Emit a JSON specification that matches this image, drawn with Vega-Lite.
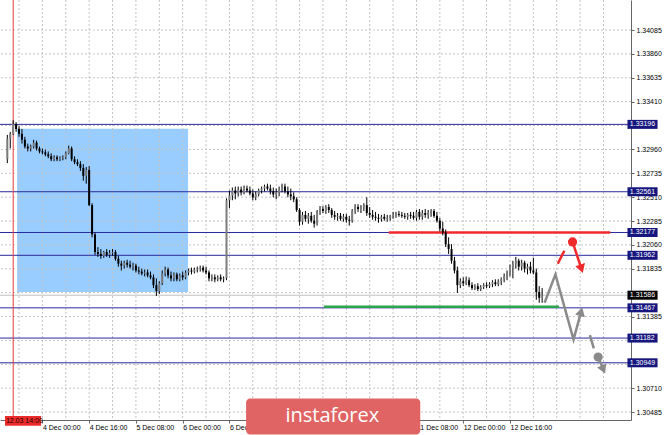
{
"$schema": "https://vega.github.io/schema/vega-lite/v6.json",
"width": 631, "height": 420,
"autosize": {"type": "none"},
"padding": {"left": 0, "top": 0, "right": 34, "bottom": 15},
"background": "white",
"config": {
 "view": {"stroke": null},
 "axis": {"grid": false, "domainColor": "#666666", "tickColor": "#666666", "labelFont": "Liberation Sans", "labelFontSize": 7, "labelColor": "#000000", "tickSize": 3, "labelOverlap": false, "labelFlush": false, "labelBound": false}
},
"datasets": {
 "candles": [
{"t":-12,"o":1.32867,"h":1.33097,"l":1.32831,"c":1.33061},
{"t":-11,"o":1.33061,"h":1.33125,"l":1.32969,"c":1.33107},
{"t":-10,"o":1.33107,"h":1.33235,"l":1.33097,"c":1.33199},
{"t":-9,"o":1.33199,"h":1.33217,"l":1.33125,"c":1.33153},
{"t":-8,"o":1.33153,"h":1.33180,"l":1.33079,"c":1.33107},
{"t":-7,"o":1.33107,"h":1.33153,"l":1.33015,"c":1.33051},
{"t":-6,"o":1.33051,"h":1.33079,"l":1.32969,"c":1.32987},
{"t":-5,"o":1.32987,"h":1.33015,"l":1.32941,"c":1.32969},
{"t":-4,"o":1.32969,"h":1.33005,"l":1.32941,"c":1.32987},
{"t":-3,"o":1.32987,"h":1.33051,"l":1.32969,"c":1.33024},
{"t":-2,"o":1.33024,"h":1.33042,"l":1.32950,"c":1.32969},
{"t":-1,"o":1.32969,"h":1.32987,"l":1.32923,"c":1.32941},
{"t":0,"o":1.32941,"h":1.32969,"l":1.32913,"c":1.32932},
{"t":1,"o":1.32932,"h":1.32959,"l":1.32895,"c":1.32913},
{"t":2,"o":1.32913,"h":1.32941,"l":1.32877,"c":1.32895},
{"t":3,"o":1.32895,"h":1.32923,"l":1.32849,"c":1.32867},
{"t":4,"o":1.32867,"h":1.32904,"l":1.32849,"c":1.32886},
{"t":5,"o":1.32886,"h":1.32904,"l":1.32849,"c":1.32867},
{"t":6,"o":1.32867,"h":1.32895,"l":1.32849,"c":1.32877},
{"t":7,"o":1.32877,"h":1.32904,"l":1.32858,"c":1.32886},
{"t":8,"o":1.32886,"h":1.32941,"l":1.32867,"c":1.32923},
{"t":9,"o":1.32923,"h":1.32996,"l":1.32913,"c":1.32969},
{"t":10,"o":1.32969,"h":1.32987,"l":1.32849,"c":1.32867},
{"t":11,"o":1.32867,"h":1.32895,"l":1.32821,"c":1.32840},
{"t":12,"o":1.32840,"h":1.32867,"l":1.32803,"c":1.32821},
{"t":13,"o":1.32821,"h":1.32849,"l":1.32757,"c":1.32785},
{"t":14,"o":1.32785,"h":1.32821,"l":1.32665,"c":1.32711},
{"t":15,"o":1.32711,"h":1.32794,"l":1.32637,"c":1.32766},
{"t":16,"o":1.32766,"h":1.32803,"l":1.32426,"c":1.32435},
{"t":17,"o":1.32435,"h":1.32453,"l":1.32131,"c":1.32159},
{"t":18,"o":1.32159,"h":1.32177,"l":1.31966,"c":1.31993},
{"t":19,"o":1.31993,"h":1.32039,"l":1.31947,"c":1.31975},
{"t":20,"o":1.31975,"h":1.32021,"l":1.31929,"c":1.31957},
{"t":21,"o":1.31957,"h":1.32003,"l":1.31938,"c":1.31993},
{"t":22,"o":1.31993,"h":1.32021,"l":1.31947,"c":1.31966},
{"t":23,"o":1.31966,"h":1.32012,"l":1.31938,"c":1.31984},
{"t":24,"o":1.31984,"h":1.32021,"l":1.31957,"c":1.31993},
{"t":25,"o":1.31993,"h":1.32012,"l":1.31911,"c":1.31929},
{"t":26,"o":1.31929,"h":1.31957,"l":1.31855,"c":1.31883},
{"t":27,"o":1.31883,"h":1.31911,"l":1.31819,"c":1.31865},
{"t":28,"o":1.31865,"h":1.31911,"l":1.31837,"c":1.31892},
{"t":29,"o":1.31892,"h":1.31920,"l":1.31846,"c":1.31874},
{"t":30,"o":1.31874,"h":1.31911,"l":1.31837,"c":1.31855},
{"t":31,"o":1.31855,"h":1.31892,"l":1.31819,"c":1.31865},
{"t":32,"o":1.31865,"h":1.31883,"l":1.31800,"c":1.31819},
{"t":33,"o":1.31819,"h":1.31855,"l":1.31782,"c":1.31809},
{"t":34,"o":1.31809,"h":1.31837,"l":1.31773,"c":1.31791},
{"t":35,"o":1.31791,"h":1.31828,"l":1.31763,"c":1.31800},
{"t":36,"o":1.31800,"h":1.31828,"l":1.31754,"c":1.31773},
{"t":37,"o":1.31773,"h":1.31809,"l":1.31736,"c":1.31754},
{"t":38,"o":1.31754,"h":1.31782,"l":1.31653,"c":1.31681},
{"t":39,"o":1.31681,"h":1.31745,"l":1.31579,"c":1.31625},
{"t":40,"o":1.31625,"h":1.31717,"l":1.31598,"c":1.31699},
{"t":41,"o":1.31699,"h":1.31819,"l":1.31681,"c":1.31791},
{"t":42,"o":1.31791,"h":1.31855,"l":1.31763,"c":1.31828},
{"t":43,"o":1.31828,"h":1.31846,"l":1.31745,"c":1.31773},
{"t":44,"o":1.31773,"h":1.31809,"l":1.31717,"c":1.31745},
{"t":45,"o":1.31745,"h":1.31800,"l":1.31717,"c":1.31782},
{"t":46,"o":1.31782,"h":1.31800,"l":1.31717,"c":1.31736},
{"t":47,"o":1.31736,"h":1.31791,"l":1.31717,"c":1.31773},
{"t":48,"o":1.31773,"h":1.31809,"l":1.31727,"c":1.31754},
{"t":49,"o":1.31754,"h":1.31819,"l":1.31736,"c":1.31800},
{"t":50,"o":1.31800,"h":1.31837,"l":1.31773,"c":1.31819},
{"t":51,"o":1.31819,"h":1.31846,"l":1.31782,"c":1.31809},
{"t":52,"o":1.31809,"h":1.31846,"l":1.31791,"c":1.31828},
{"t":53,"o":1.31828,"h":1.31855,"l":1.31800,"c":1.31837},
{"t":54,"o":1.31837,"h":1.31865,"l":1.31809,"c":1.31846},
{"t":55,"o":1.31846,"h":1.31865,"l":1.31800,"c":1.31819},
{"t":56,"o":1.31819,"h":1.31855,"l":1.31782,"c":1.31800},
{"t":57,"o":1.31800,"h":1.31819,"l":1.31717,"c":1.31745},
{"t":58,"o":1.31745,"h":1.31782,"l":1.31717,"c":1.31754},
{"t":59,"o":1.31754,"h":1.31782,"l":1.31708,"c":1.31736},
{"t":60,"o":1.31736,"h":1.31773,"l":1.31717,"c":1.31754},
{"t":61,"o":1.31754,"h":1.31782,"l":1.31717,"c":1.31736},
{"t":62,"o":1.31736,"h":1.31763,"l":1.31708,"c":1.31745},
{"t":63,"o":1.31745,"h":1.32499,"l":1.31727,"c":1.32481},
{"t":64,"o":1.32481,"h":1.32573,"l":1.32407,"c":1.32527},
{"t":65,"o":1.32527,"h":1.32601,"l":1.32481,"c":1.32573},
{"t":66,"o":1.32573,"h":1.32610,"l":1.32490,"c":1.32545},
{"t":67,"o":1.32545,"h":1.32610,"l":1.32518,"c":1.32582},
{"t":68,"o":1.32582,"h":1.32610,"l":1.32527,"c":1.32555},
{"t":69,"o":1.32555,"h":1.32619,"l":1.32536,"c":1.32591},
{"t":70,"o":1.32591,"h":1.32619,"l":1.32555,"c":1.32573},
{"t":71,"o":1.32573,"h":1.32610,"l":1.32527,"c":1.32545},
{"t":72,"o":1.32545,"h":1.32582,"l":1.32481,"c":1.32509},
{"t":73,"o":1.32509,"h":1.32564,"l":1.32481,"c":1.32536},
{"t":74,"o":1.32536,"h":1.32591,"l":1.32518,"c":1.32573},
{"t":75,"o":1.32573,"h":1.32610,"l":1.32545,"c":1.32591},
{"t":76,"o":1.32591,"h":1.32628,"l":1.32564,"c":1.32610},
{"t":77,"o":1.32610,"h":1.32637,"l":1.32573,"c":1.32591},
{"t":78,"o":1.32591,"h":1.32628,"l":1.32536,"c":1.32564},
{"t":79,"o":1.32564,"h":1.32601,"l":1.32509,"c":1.32536},
{"t":80,"o":1.32536,"h":1.32591,"l":1.32490,"c":1.32555},
{"t":81,"o":1.32555,"h":1.32610,"l":1.32518,"c":1.32582},
{"t":82,"o":1.32582,"h":1.32637,"l":1.32555,"c":1.32610},
{"t":83,"o":1.32610,"h":1.32637,"l":1.32545,"c":1.32564},
{"t":84,"o":1.32564,"h":1.32610,"l":1.32509,"c":1.32536},
{"t":85,"o":1.32536,"h":1.32591,"l":1.32481,"c":1.32518},
{"t":86,"o":1.32518,"h":1.32555,"l":1.32463,"c":1.32490},
{"t":87,"o":1.32490,"h":1.32509,"l":1.32371,"c":1.32389},
{"t":88,"o":1.32389,"h":1.32407,"l":1.32242,"c":1.32279},
{"t":89,"o":1.32279,"h":1.32371,"l":1.32251,"c":1.32343},
{"t":90,"o":1.32343,"h":1.32380,"l":1.32279,"c":1.32306},
{"t":91,"o":1.32306,"h":1.32361,"l":1.32260,"c":1.32334},
{"t":92,"o":1.32334,"h":1.32371,"l":1.32269,"c":1.32288},
{"t":93,"o":1.32288,"h":1.32343,"l":1.32223,"c":1.32260},
{"t":94,"o":1.32260,"h":1.32389,"l":1.32242,"c":1.32371},
{"t":95,"o":1.32371,"h":1.32426,"l":1.32343,"c":1.32398},
{"t":96,"o":1.32398,"h":1.32426,"l":1.32361,"c":1.32380},
{"t":97,"o":1.32380,"h":1.32435,"l":1.32352,"c":1.32417},
{"t":98,"o":1.32417,"h":1.32444,"l":1.32361,"c":1.32389},
{"t":99,"o":1.32389,"h":1.32407,"l":1.32315,"c":1.32343},
{"t":100,"o":1.32343,"h":1.32380,"l":1.32297,"c":1.32325},
{"t":101,"o":1.32325,"h":1.32361,"l":1.32288,"c":1.32334},
{"t":102,"o":1.32334,"h":1.32361,"l":1.32288,"c":1.32306},
{"t":103,"o":1.32306,"h":1.32352,"l":1.32279,"c":1.32325},
{"t":104,"o":1.32325,"h":1.32352,"l":1.32269,"c":1.32297},
{"t":105,"o":1.32297,"h":1.32334,"l":1.32242,"c":1.32288},
{"t":106,"o":1.32288,"h":1.32398,"l":1.32269,"c":1.32380},
{"t":107,"o":1.32380,"h":1.32444,"l":1.32352,"c":1.32417},
{"t":108,"o":1.32417,"h":1.32444,"l":1.32371,"c":1.32398},
{"t":109,"o":1.32398,"h":1.32435,"l":1.32361,"c":1.32417},
{"t":110,"o":1.32417,"h":1.32453,"l":1.32380,"c":1.32435},
{"t":111,"o":1.32435,"h":1.32509,"l":1.32334,"c":1.32361},
{"t":112,"o":1.32361,"h":1.32417,"l":1.32315,"c":1.32343},
{"t":113,"o":1.32343,"h":1.32389,"l":1.32297,"c":1.32325},
{"t":114,"o":1.32325,"h":1.32371,"l":1.32288,"c":1.32315},
{"t":115,"o":1.32315,"h":1.32352,"l":1.32269,"c":1.32306},
{"t":116,"o":1.32306,"h":1.32343,"l":1.32279,"c":1.32325},
{"t":117,"o":1.32325,"h":1.32352,"l":1.32288,"c":1.32306},
{"t":118,"o":1.32306,"h":1.32343,"l":1.32279,"c":1.32315},
{"t":119,"o":1.32315,"h":1.32343,"l":1.32288,"c":1.32334},
{"t":120,"o":1.32334,"h":1.32371,"l":1.32306,"c":1.32343},
{"t":121,"o":1.32343,"h":1.32371,"l":1.32315,"c":1.32352},
{"t":122,"o":1.32352,"h":1.32380,"l":1.32325,"c":1.32343},
{"t":123,"o":1.32343,"h":1.32371,"l":1.32315,"c":1.32334},
{"t":124,"o":1.32334,"h":1.32361,"l":1.32306,"c":1.32325},
{"t":125,"o":1.32325,"h":1.32361,"l":1.32297,"c":1.32343},
{"t":126,"o":1.32343,"h":1.32371,"l":1.32306,"c":1.32334},
{"t":127,"o":1.32334,"h":1.32371,"l":1.32297,"c":1.32315},
{"t":128,"o":1.32315,"h":1.32389,"l":1.32288,"c":1.32371},
{"t":129,"o":1.32371,"h":1.32398,"l":1.32297,"c":1.32325},
{"t":130,"o":1.32325,"h":1.32389,"l":1.32297,"c":1.32361},
{"t":131,"o":1.32361,"h":1.32398,"l":1.32315,"c":1.32343},
{"t":132,"o":1.32343,"h":1.32389,"l":1.32306,"c":1.32361},
{"t":133,"o":1.32361,"h":1.32398,"l":1.32325,"c":1.32380},
{"t":134,"o":1.32380,"h":1.32398,"l":1.32315,"c":1.32334},
{"t":135,"o":1.32334,"h":1.32371,"l":1.32269,"c":1.32288},
{"t":136,"o":1.32288,"h":1.32315,"l":1.32187,"c":1.32214},
{"t":137,"o":1.32214,"h":1.32279,"l":1.32150,"c":1.32177},
{"t":138,"o":1.32177,"h":1.32205,"l":1.32039,"c":1.32067},
{"t":139,"o":1.32067,"h":1.32131,"l":1.31975,"c":1.32021},
{"t":140,"o":1.32021,"h":1.32067,"l":1.31883,"c":1.31911},
{"t":141,"o":1.31911,"h":1.31947,"l":1.31791,"c":1.31819},
{"t":142,"o":1.31819,"h":1.31855,"l":1.31607,"c":1.31681},
{"t":143,"o":1.31681,"h":1.31745,"l":1.31653,"c":1.31717},
{"t":144,"o":1.31717,"h":1.31754,"l":1.31671,"c":1.31699},
{"t":145,"o":1.31699,"h":1.31763,"l":1.31681,"c":1.31727},
{"t":146,"o":1.31727,"h":1.31754,"l":1.31662,"c":1.31681},
{"t":147,"o":1.31681,"h":1.31708,"l":1.31635,"c":1.31653},
{"t":148,"o":1.31653,"h":1.31690,"l":1.31635,"c":1.31671},
{"t":149,"o":1.31671,"h":1.31699,"l":1.31625,"c":1.31644},
{"t":150,"o":1.31644,"h":1.31681,"l":1.31625,"c":1.31662},
{"t":151,"o":1.31662,"h":1.31699,"l":1.31644,"c":1.31681},
{"t":152,"o":1.31681,"h":1.31708,"l":1.31653,"c":1.31671},
{"t":153,"o":1.31671,"h":1.31708,"l":1.31653,"c":1.31690},
{"t":154,"o":1.31690,"h":1.31727,"l":1.31662,"c":1.31708},
{"t":155,"o":1.31708,"h":1.31736,"l":1.31671,"c":1.31690},
{"t":156,"o":1.31690,"h":1.31736,"l":1.31671,"c":1.31717},
{"t":157,"o":1.31717,"h":1.31754,"l":1.31681,"c":1.31736},
{"t":158,"o":1.31736,"h":1.31791,"l":1.31708,"c":1.31763},
{"t":159,"o":1.31763,"h":1.31819,"l":1.31727,"c":1.31791},
{"t":160,"o":1.31791,"h":1.31874,"l":1.31763,"c":1.31846},
{"t":161,"o":1.31846,"h":1.31911,"l":1.31745,"c":1.31883},
{"t":162,"o":1.31883,"h":1.31947,"l":1.31837,"c":1.31911},
{"t":163,"o":1.31911,"h":1.31929,"l":1.31819,"c":1.31855},
{"t":164,"o":1.31855,"h":1.31920,"l":1.31819,"c":1.31892},
{"t":165,"o":1.31892,"h":1.31911,"l":1.31800,"c":1.31837},
{"t":166,"o":1.31837,"h":1.31883,"l":1.31782,"c":1.31855},
{"t":167,"o":1.31855,"h":1.31901,"l":1.31791,"c":1.31819},
{"t":168,"o":1.31819,"h":1.31938,"l":1.31782,"c":1.31800},
{"t":169,"o":1.31800,"h":1.31837,"l":1.31543,"c":1.31616},
{"t":170,"o":1.31616,"h":1.31671,"l":1.31515,"c":1.31561},
{"t":171,"o":1.31561,"h":1.31653,"l":1.31515,"c":1.31586}
 ],
 "levels": [{"p":1.33196},{"p":1.32561},{"p":1.32177},{"p":1.31962},{"p":1.31467},{"p":1.31182},{"p":1.30949}],
 "gx": [{"t":-8},{"t":0},{"t":8},{"t":16},{"t":24},{"t":32},{"t":40},{"t":48},{"t":56},{"t":64},{"t":72},{"t":80},{"t":88},{"t":96},{"t":104},{"t":112},{"t":120},{"t":128},{"t":136},{"t":144},{"t":152},{"t":160},{"t":168},{"t":176},{"t":184},{"t":192}],
 "gy": [{"p":1.30485},{"p":1.30710},{"p":1.30935},{"p":1.31160},{"p":1.31385},{"p":1.31610},{"p":1.31835},{"p":1.32060},{"p":1.32285},{"p":1.32510},{"p":1.32735},{"p":1.32960},{"p":1.33185},{"p":1.33410},{"p":1.33635},{"p":1.33860},{"p":1.34085}],
 "grayPath": [
  {"g":"zig","k":0,"t":171.85,"p":1.31515},
  {"g":"zig","k":1,"t":175.55,"p":1.31782},
  {"g":"zig","k":2,"t":181.75,"p":1.31168},
  {"g":"zig","k":3,"t":184.35,"p":1.31431},
  {"g":"dash","k":0,"t":187.34,"p":1.31209},
  {"g":"dash","k":1,"t":188.69,"p":1.31085},
  {"g":"arrow","k":0,"t":190.17,"p":1.31003},
  {"g":"arrow","k":1,"t":191.95,"p":1.30886}
 ],
 "redPath": [
  {"g":"dash","k":0,"t":176.36,"p":1.31883},
  {"g":"dash","k":1,"t":178.59,"p":1.32005},
  {"g":"arrow","k":0,"t":181.41,"p":1.32088},
  {"g":"arrow","k":1,"t":184.46,"p":1.31835}
 ]
},
"layer": [
 {
  "data": {"values": [{"a": -8.66, "b": 49.84, "top": 1.33155, "bot": 1.31616}]},
  "mark": {"type": "rect", "color": "#99ccff"},
  "encoding": {
   "x": {"field": "a", "type": "quantitative", "title": null,
     "scale": {"domain": [-12.8, 199.7], "nice": false, "zero": false},
     "axis": {"orient": "bottom", "values": [0,16,32,48,64,128,144,160], "tickCount": 40, "labelAlign": "left", "labelDx": 1, "labelPadding": 0, "labelFlush": false, "labelOverlap": false, "labelBound": false, "labelBaseline": "top",
       "labelExpr": "datum.value==0?'4 Dec 00:00':datum.value==16?'4 Dec 16:00':datum.value==32?'5 Dec 08:00':datum.value==48?'6 Dec 00:00':datum.value==64?'6 Dec 16:00':datum.value==128?'11 Dec 08:00':datum.value==144?'12 Dec 00:00':datum.value==160?'12 Dec 16:00':''"}},
   "x2": {"field": "b"},
   "y": {"field": "top", "type": "quantitative", "title": null,
     "scale": {"domain": [1.30457, 1.34321], "nice": false, "zero": false},
     "axis": {"orient": "right", "values": [1.30485,1.30710,1.31385,1.31835,1.32060,1.32285,1.32510,1.32735,1.32960,1.33410,1.33635,1.33860,1.34085], "tickCount": 40, "format": ".5f", "labelPadding": 2, "labelBaseline": "middle", "labelOverlap": false, "labelFlush": false, "labelBound": false}},
   "y2": {"field": "bot"}
  }
 },
 {
  "data": {"name": "gx"},
  "mark": {"type": "rule", "color": "#c4c4c4", "strokeWidth": 1, "strokeDash": [2, 2]},
  "encoding": {"x": {"field": "t", "type": "quantitative", "title": null}}
 },
 {
  "data": {"name": "gy"},
  "mark": {"type": "rule", "color": "#c4c4c4", "strokeWidth": 1, "strokeDash": [2, 2]},
  "encoding": {"y": {"field": "p", "type": "quantitative", "title": null}}
 },
 {
  "data": {"values": [{"p": 1.31586}]},
  "mark": {"type": "rule", "color": "#c0c0c0", "strokeWidth": 1},
  "encoding": {"y": {"field": "p", "type": "quantitative", "title": null}}
 },
 {
  "data": {"name": "levels"},
  "mark": {"type": "rule", "color": "#2a2a9c", "strokeWidth": 1},
  "encoding": {"y": {"field": "p", "type": "quantitative", "title": null}}
 },
 {
  "data": {"values": [{"t": -10}]},
  "mark": {"type": "rule", "color": "#e23a3a", "strokeWidth": 1},
  "encoding": {"x": {"field": "t", "type": "quantitative", "title": null}}
 },
 {
  "data": {"values": [{"a": 118.54, "b": 194.31, "p": 1.32177}]},
  "mark": {"type": "rule", "color": "#f02a2a", "strokeWidth": 2.5},
  "encoding": {"x": {"field": "a", "type": "quantitative", "title": null}, "x2": {"field": "b"}, "y": {"field": "p", "type": "quantitative", "title": null}}
 },
 {
  "data": {"values": [{"a": 96.31, "b": 176.8, "p": 1.31478}]},
  "mark": {"type": "rule", "color": "#2fa24c", "strokeWidth": 2.5},
  "encoding": {"x": {"field": "a", "type": "quantitative", "title": null}, "x2": {"field": "b"}, "y": {"field": "p", "type": "quantitative", "title": null}}
 },
 {
  "data": {"name": "candles"},
  "mark": {"type": "rule", "color": "#000000", "strokeWidth": 1},
  "encoding": {"x": {"field": "t", "type": "quantitative", "title": null}, "y": {"field": "l", "type": "quantitative", "title": null}, "y2": {"field": "h"}}
 },
 {
  "data": {"name": "candles"},
  "mark": {"type": "bar", "width": 2},
  "encoding": {
   "x": {"field": "t", "type": "quantitative", "title": null},
   "y": {"field": "o", "type": "quantitative", "title": null},
   "y2": {"field": "c"},
   "color": {"condition": {"test": "datum.c > datum.o", "value": "#7c7c7c"}, "value": "#000000"}
  }
 },
 {
  "data": {"name": "grayPath"},
  "mark": {"type": "line", "color": "#8a8a8a", "strokeWidth": 2.5},
  "encoding": {"x": {"field": "t", "type": "quantitative", "title": null}, "y": {"field": "p", "type": "quantitative", "title": null}, "detail": {"field": "g"}, "order": {"field": "k"}}
 },
 {
  "data": {"name": "redPath"},
  "mark": {"type": "line", "color": "#f02a2a", "strokeWidth": 2.5},
  "encoding": {"x": {"field": "t", "type": "quantitative", "title": null}, "y": {"field": "p", "type": "quantitative", "title": null}, "detail": {"field": "g"}, "order": {"field": "k"}}
 },
 {
  "data": {"values": [{"t": 184.35, "p": 1.31431}]},
  "mark": {"type": "point", "shape": "triangle-up", "filled": true, "opacity": 1, "size": 100, "angle": 15, "color": "#8a8a8a"},
  "encoding": {"x": {"field": "t", "type": "quantitative", "title": null}, "y": {"field": "p", "type": "quantitative", "title": null}}
 },
 {
  "data": {"values": [{"t": 191.95, "p": 1.30886}]},
  "mark": {"type": "point", "shape": "triangle-down", "filled": true, "opacity": 1, "size": 100, "angle": -23, "color": "#8a8a8a"},
  "encoding": {"x": {"field": "t", "type": "quantitative", "title": null}, "y": {"field": "p", "type": "quantitative", "title": null}}
 },
 {
  "data": {"values": [{"t": 190.17, "p": 1.31003}]},
  "mark": {"type": "point", "shape": "circle", "filled": true, "opacity": 1, "size": 85, "color": "#8a8a8a"},
  "encoding": {"x": {"field": "t", "type": "quantitative", "title": null}, "y": {"field": "p", "type": "quantitative", "title": null}}
 },
 {
  "data": {"values": [{"t": 184.46, "p": 1.31835}]},
  "mark": {"type": "point", "shape": "triangle-down", "filled": true, "opacity": 1, "size": 100, "angle": -18, "color": "#f02a2a"},
  "encoding": {"x": {"field": "t", "type": "quantitative", "title": null}, "y": {"field": "p", "type": "quantitative", "title": null}}
 },
 {
  "data": {"values": [{"t": 181.41, "p": 1.32088}]},
  "mark": {"type": "point", "shape": "circle", "filled": true, "opacity": 1, "size": 85, "color": "#f02a2a"},
  "encoding": {"x": {"field": "t", "type": "quantitative", "title": null}, "y": {"field": "p", "type": "quantitative", "title": null}}
 },
 {
  "data": {"name": "levels"},
  "mark": {"type": "bar", "height": 9, "color": "#16167e"},
  "encoding": {"x": {"datum": 200.2}, "x2": {"datum": 210.5}, "y": {"field": "p", "type": "quantitative", "title": null}}
 },
 {
  "data": {"name": "levels"},
  "mark": {"type": "text", "align": "left", "baseline": "middle", "color": "#ffffff", "font": "Liberation Sans", "fontSize": 7},
  "encoding": {"x": {"datum": 201}, "y": {"field": "p", "type": "quantitative", "title": null}, "text": {"field": "p", "type": "quantitative", "format": ".5f"}}
 },
 {
  "data": {"values": [{"p": 1.31586}]},
  "mark": {"type": "bar", "height": 9, "color": "#000000"},
  "encoding": {"x": {"datum": 200.2}, "x2": {"datum": 210.5}, "y": {"field": "p", "type": "quantitative", "title": null}}
 },
 {
  "data": {"values": [{"p": 1.31586}]},
  "mark": {"type": "text", "align": "left", "baseline": "middle", "color": "#ffffff", "font": "Liberation Sans", "fontSize": 7},
  "encoding": {"x": {"datum": 201}, "y": {"field": "p", "type": "quantitative", "title": null}, "text": {"field": "p", "type": "quantitative", "format": ".5f"}}
 },
 {
  "data": {"values": [{"label": "12.03 14:00"}]},
  "mark": {"type": "rect", "color": "#ee2b2b"},
  "encoding": {"x": {"datum": -12.8}, "x2": {"datum": -0.44}, "y": {"datum": 1.30448}, "y2": {"datum": 1.30356}}
 },
 {
  "data": {"values": [{"label": "12.03 14:00"}]},
  "mark": {"type": "text", "align": "left", "baseline": "middle", "color": "#1a0000", "font": "Liberation Sans", "fontSize": 7},
  "encoding": {"x": {"datum": -12.5}, "y": {"datum": 1.30402}, "text": {"field": "label"}}
 },
 {
  "data": {"values": [{"label": "instaforex"}]},
  "mark": {"type": "rect", "color": "#e06464", "cornerRadius": 4},
  "encoding": {"x": {"datum": 69.7}, "x2": {"datum": 129.3}, "y": {"datum": 1.30613}, "y2": {"datum": 1.30273}}
 },
 {
  "data": {"values": [{"label": "instaforex"}]},
  "mark": {"type": "text", "align": "center", "baseline": "alphabetic", "color": "#ffffff", "font": "Open Sans", "fontSize": 20},
  "encoding": {"x": {"datum": 99.2}, "y": {"datum": 1.30393}, "text": {"field": "label"}}
 }
]
}
